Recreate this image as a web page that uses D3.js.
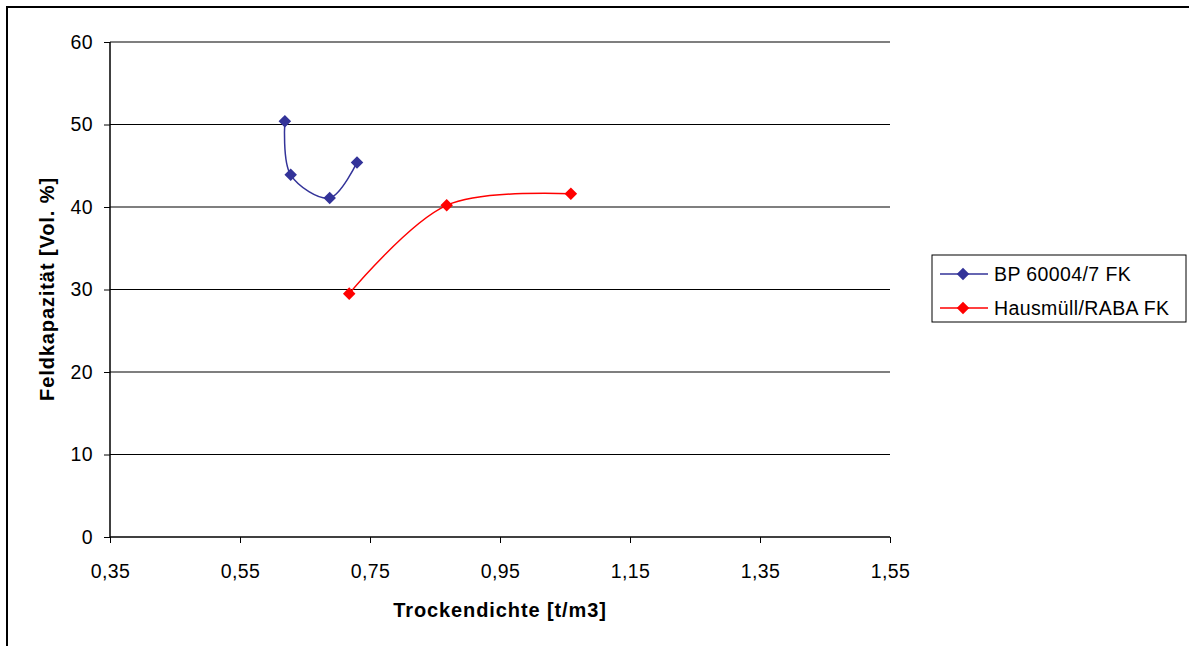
<!DOCTYPE html>
<html><head><meta charset="utf-8">
<script src="https://cdn.jsdelivr.net/npm/d3@7"></script>
<style>body{margin:0;background:#fff}svg{display:block;font-family:"Liberation Sans",Arial,sans-serif}</style>
</head><body><svg id="c" width="1189" height="646"></svg>
<script>
const xTicks = [0.35, 0.55, 0.75, 0.95, 1.15, 1.35, 1.55];
const yTicks = [0, 10, 20, 30, 40, 50, 60];
const seriesNames = ["BP 60004/7 FK", "Hausmüll/RABA FK"];
const bpX = [0.619, 0.628, 0.688, 0.730];
const bpY = [50.4, 43.9, 41.1, 45.4];
const raX = [0.718, 0.868, 1.059];
const raY = [29.5, 40.2, 41.6];
const colors = ["#333399", "#FF0000"];

const svg = d3.select("#c");
const L = 110, R = 890, T = 42, B = 537;
const x = d3.scaleLinear().domain([0.35, 1.55]).range([L, R]);
const y = d3.scaleLinear().domain([0, 60]).range([B, T]);
const fmt = d => d3.format(".2f")(d).replace(".", ",");
const FF = '"Liberation Sans",Arial,sans-serif';

// outer frame
svg.append("rect").attr("x", 7).attr("y", 7).attr("width", 1200).attr("height", 660)
  .attr("fill", "none").attr("stroke", "#000").attr("stroke-width", 2);

// gridlines
svg.append("g").selectAll("line").data(yTicks.filter(d => d > 0)).join("line")
  .attr("x1", L).attr("x2", R).attr("y1", d => y(d)).attr("y2", d => y(d))
  .attr("stroke", "#000").attr("stroke-width", 1.2);

const xa = svg.append("g").attr("transform", `translate(0,${B})`)
  .call(d3.axisBottom(x).tickValues(xTicks).tickFormat(fmt).tickSize(6).tickPadding(21));
const ya = svg.append("g").attr("transform", `translate(${L},0)`)
  .call(d3.axisLeft(y).tickValues(yTicks).tickSize(6).tickPadding(11));
[xa, ya].forEach(a => {
  a.attr("font-size", null).attr("font-family", null);
  a.select(".domain").attr("stroke", "#000").attr("stroke-width", 1.5);
  a.selectAll(".tick line").attr("stroke", "#000");
  a.selectAll("text").attr("font-size", 19.5).attr("fill", "#000").attr("font-family", FF).attr("letter-spacing", 0.4);
});
xa.select(".domain").attr("d", `M${L},0H${R}`);
ya.select(".domain").attr("d", `M0,${B}V${T}`);

svg.append("text").attr("x", 500).attr("y", 617).attr("text-anchor", "middle")
  .attr("font-size", 20).attr("font-weight", "bold").attr("letter-spacing", 0.9).text("Trockendichte [t/m3]");
svg.append("text").attr("transform", `translate(54,289) rotate(-90)`).attr("text-anchor", "middle")
  .attr("font-size", 20).attr("font-weight", "bold").attr("letter-spacing", 0.9).text("Feldkapazität [Vol. %]");

const series = [bpX.map((v, i) => [v, bpY[i]]), raX.map((v, i) => [v, raY[i]])];
const line = d3.line().x(d => x(d[0])).y(d => y(d[1])).curve(d3.curveCatmullRom.alpha(0.5));
const diamond = d3.symbol().type(d3.symbolDiamond2).size(100);
series.forEach((s, i) => {
  svg.append("path").attr("d", line(s)).attr("fill", "none").attr("stroke", colors[i]).attr("stroke-width", 1.5);
  svg.append("g").selectAll("path").data(s).join("path")
    .attr("transform", d => `translate(${x(d[0])},${y(d[1])})`).attr("d", diamond).attr("fill", colors[i]);
});

// legend
const lg = svg.append("g");
lg.append("rect").attr("x", 932).attr("y", 255).attr("width", 254).attr("height", 67)
  .attr("fill", "#fff").attr("stroke", "#000").attr("stroke-width", 1);
seriesNames.forEach((n, i) => {
  const yy = 274 + i * 34;
  lg.append("line").attr("x1", 940).attr("x2", 988).attr("y1", yy).attr("y2", yy).attr("stroke", colors[i]).attr("stroke-width", 1.5);
  lg.append("path").attr("transform", `translate(963,${yy})`).attr("d", diamond).attr("fill", colors[i]);
  lg.append("text").attr("x", 994).attr("y", yy + 7).attr("font-size", 19.5).attr("letter-spacing", 0.4).text(n);
});
</script></body></html>
